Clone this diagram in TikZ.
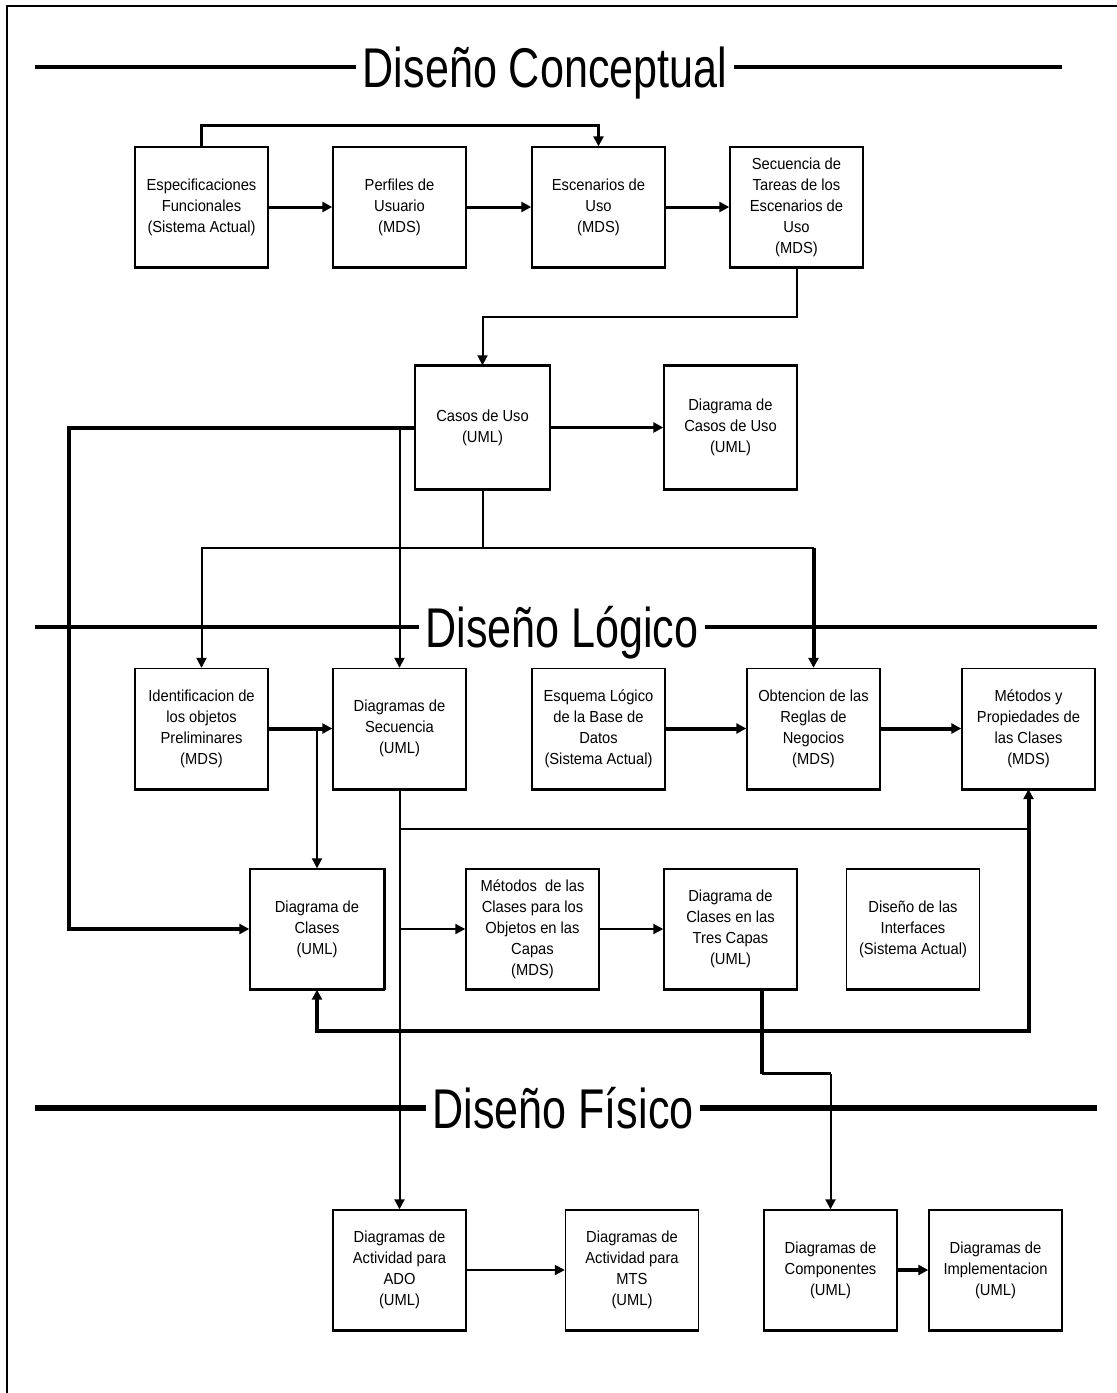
\documentclass[tikz,border=0pt]{standalone}
\usepackage{fontspec}
\setmainfont{Liberation Sans}
\newfontfamily\boxfont[FakeStretch=0.92]{Liberation Sans}
\newfontfamily\titlefont[FakeStretch=0.77]{Liberation Sans}
\usetikzlibrary{arrows.meta,calc}

\begin{document}
\begin{tikzpicture}[x=0.5pt,y=-0.5pt,
  box/.style={draw, line width=0.7pt, minimum width=66.5pt, minimum height=60pt,
    inner sep=1pt, align=center, font=\boxfont\fontsize{8pt}{10.5pt}\selectfont},
  thin/.style={line width=1pt},
  mid/.style={line width=1.5pt},
  heavy/.style={line width=2pt},
  arr/.style={-{Triangle[length=5pt,width=5pt]}},
  title/.style={font=\titlefont\fontsize{28pt}{30pt}\selectfont, inner sep=3pt, anchor=base},
  rule/.style={line width=2pt}]

\fill[white] (0,0) rectangle (1117,1393);
\useasboundingbox (0,0) rectangle (1117,1393);
\draw[line width=1pt] (7,1393) -- (7,6) -- (1117,6);

% section headings
\node[title] (t1) at (545,87) {Diseño Conceptual};
\node[title] (t2) at (562,647) {Diseño Lógico};
\node[title] (t3) at (563,1128) {Diseño Físico};
\coordinate (t1l) at (35,67);   \coordinate (t1r) at (1062,67);
\coordinate (t2l) at (35,627);  \coordinate (t2r) at (1097,627);
\coordinate (t3l) at (35,1108); \coordinate (t3r) at (1097,1108);
\draw[rule] (t1l) -- (t1l -| t1.west);  \draw[rule] (t1l -| t1.east) -- (t1r);
\draw[rule] (t2l) -- (t2l -| t2.west);  \draw[rule] (t2l -| t2.east) -- (t2r);
\draw[rule,line width=3pt] (t3l) -- (t3l -| t3.west);  \draw[rule,line width=3pt] (t3l -| t3.east) -- (t3r);

% conceptual design
\node[box] (espec) at (201.5,207) {Especificaciones\\Funcionales\\(Sistema Actual)};
\node[box] (perf)  at (399.5,207) {Perfiles de\\Usuario\\(MDS)};
\node[box] (esc)   at (598.5,207) {Escenarios de\\Uso\\(MDS)};
\node[box] (sec)   at (796.5,207) {Secuencia de\\Tareas de los\\Escenarios de\\Uso\\(MDS)};
\node[box,minimum width=67.5pt,minimum height=61.5pt] (casos) at (482.5,427.5) {Casos de Uso\\(UML)};
\node[box,minimum height=61.5pt] (dcu) at (730.5,427.5) {Diagrama de\\Casos de Uso\\(UML)};

% logical design
\node[box] (ident) at (201.5,728.5) {Identificacion de\\los objetos\\Preliminares\\(MDS)};
\node[box] (dsec)  at (399.5,728.5) {Diagramas de\\Secuencia\\(UML)};
\node[box] (esq)   at (598.5,728.5) {Esquema Lógico\\de la Base de\\Datos\\(Sistema Actual)};
\node[box] (obt)   at (813.5,728.5) {Obtencion de las\\Reglas de\\Negocios\\(MDS)};
\node[box] (met)   at (1028.5,728.5) {Métodos y\\Propiedades de\\las Clases\\(MDS)};
\node[box,minimum width=67pt] (dclases) at (317,929) {Diagrama de\\Clases\\(UML)};
\node[box] (mclases) at (532.5,929) {Métodos~ de las\\Clases para los\\Objetos en las\\Capas\\(MDS)};
\node[box] (tres)  at (730.5,929) {Diagrama de\\Clases en las\\Tres Capas\\(UML)};
\node[box] (inter) at (913,929) {Diseño de las\\Interfaces\\(Sistema Actual)};

% physical design
\node[box] (ado)  at (399.5,1270) {Diagramas de\\Actividad para\\ADO\\(UML)};
\node[box] (mts)  at (632,1270) {Diagramas de\\Actividad para\\MTS\\(UML)};
\node[box] (comp) at (830.5,1270) {Diagramas de\\Componentes\\(UML)};
\node[box] (impl) at (995.5,1270) {Diagramas de\\Implementacion\\(UML)};

% heavier bottom edges of the boxes
\foreach \n in {espec,perf,esc,sec,casos,dcu,ident,dsec,esq,obt,met,dclases,mclases,tres,inter,ado,mts,comp,impl}
  \draw[line width=1.5pt] (\n.south west) -- (\n.south east);
\draw[line width=1.5pt] (casos.north west) -- (casos.north east);
\draw[line width=1.5pt] (dcu.north west) -- (dcu.north east);
\draw[line width=1.5pt] (dclases.north east) -- (dclases.south east);

% connectors, conceptual part
\draw[mid,arr] (espec.north) -- ++(0,-21) -| (esc.north);
\draw[mid,arr] (espec.east) -- (perf.west);
\draw[mid,arr] (perf.east) -- (esc.west);
\draw[mid,arr] (esc.east) -- (sec.west);
\draw[thin,arr] (sec.south) -- ++(0,49) -| (casos.north);
\draw[mid,arr] (casos.east) -- (dcu.west);

% connectors out of the use cases
\draw[heavy,arr] (casos.west) -- ++(-345,0) |- (dclases.west);
\draw[thin,arr] (casos.west -| dsec.north) -- (dsec.north);
\draw[thin] (casos.south) -- ++(0,58) coordinate (cj);
\draw[thin,arr] (cj) -| (ident.north);
\draw[thin] (cj) -- (cj -| obt.north);
\draw[heavy,arr] (cj -| obt.north) -- (obt.north);

% connectors, logical part
\draw[heavy,arr] (ident.east) -- (dsec.west);
\draw[thin,arr] (ident.east -| dclases.north) -- (dclases.north);
\draw[heavy,arr] (esq.east) -- (obt.west);
\draw[heavy,arr] (obt.east) -- (met.west);
\draw[thin,arr] (dsec.south) -- (ado.north);
\coordinate (dj) at ($(dsec.south)+(0,40)$);
\draw[thin] (dj) -- (dj -| met.south);
\draw[thin,arr] (dclases.east -| dsec.south) -- (mclases.west);
\draw[thin,arr] (mclases.east) -- (tres.west);
\coordinate (tout) at ($(tres.south)+(31.5,0)$);
\draw[heavy] (tout) -- ++(0,41) coordinate (tj);
\draw[heavy,arr] (tj) -| (dclases.south);
\draw[heavy,arr] (tj) -| (met.south);
\draw[heavy] (tj) -- ++(0,43) coordinate (tk);
\draw[mid] (tk) -- (tk -| comp.north);
\draw[thin,arr] (tk -| comp.north) -- (comp.north);

% connectors, physical part
\draw[thin,arr] (ado.east) -- (mts.west);
\draw[heavy,arr] (comp.east) -- (impl.west);
\end{tikzpicture}
\end{document}
